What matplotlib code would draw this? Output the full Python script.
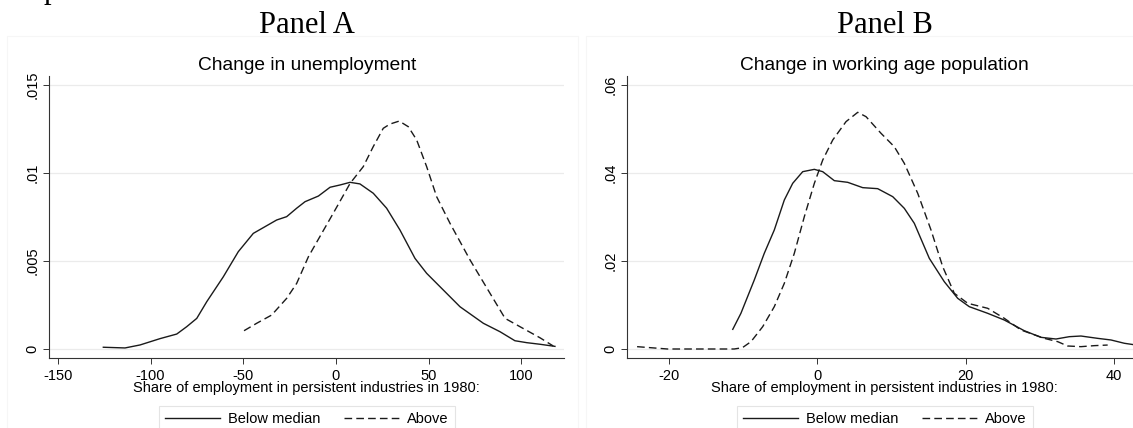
import matplotlib
matplotlib.use("Agg")
import matplotlib.pyplot as plt
from matplotlib.patches import Rectangle

plt.rcParams["font.family"] = ["Liberation Sans", "DejaVu Sans"]

# Panel A: change in unemployment (kernel densities)
a_below_x = [-125.5, -113.8, -105.7, -94.9, -85.9, -80.5, -75.1, -69.7, -60.8, -52.7,
             -44.6, -38.3, -32.0, -26.6, -21.2, -16.7, -9.5, -3.2, 2.2, 7.6,
             12.9, 20.1, 27.3, 34.5, 42.6, 48.9, 57.9, 66.9, 79.5, 88.5,
             96.5, 102.9, 110.0, 118.1]
a_below_y = [0.00010, 0.00006, 0.00023, 0.00059, 0.00085, 0.00127, 0.00174, 0.00269, 0.00410, 0.00553,
             0.00657, 0.00695, 0.00733, 0.00752, 0.00800, 0.00837, 0.00869, 0.00919, 0.00932, 0.00947,
             0.00938, 0.00885, 0.00800, 0.00676, 0.00515, 0.00430, 0.00335, 0.00240, 0.00146, 0.00098,
             0.00047, 0.00036, 0.00027, 0.00015]
a_above_x = [-49.6, -42.8, -34.7, -26.6, -21.2, -14.9, -7.7, -1.5, 7.6, 14.7,
             20.1, 25.5, 29.1, 34.1, 39.0, 43.5, 48.9, 54.3, 61.5, 72.3,
             83.1, 91.2, 99.2, 110.0, 117.2]
a_above_y = [0.00104, 0.00146, 0.00193, 0.00288, 0.00373, 0.00524, 0.00657, 0.00771, 0.00941, 0.01036,
             0.01150, 0.01254, 0.01278, 0.01295, 0.01263, 0.01188, 0.01036, 0.00865, 0.00714, 0.00506,
             0.00316, 0.00174, 0.00127, 0.00064, 0.00017]

# Panel B: change in working age population
b_below_x = [-11.4, -10.3, -8.5, -7.15, -5.8, -4.45, -3.32, -1.97, -0.4, 0.73,
             2.29, 4.1, 6.12, 8.14, 10.17, 11.73, 13.08, 15.1, 17.12, 18.93,
             20.49, 22.97, 25.21, 27.9, 30.16, 32.18, 33.98, 35.55, 37.8, 39.6,
             41.4, 43.8]
b_below_y = [0.00447, 0.00811, 0.01568, 0.02175, 0.02705, 0.03386, 0.03765, 0.04030, 0.04083, 0.04030,
             0.03826, 0.03788, 0.03667, 0.03644, 0.03462, 0.03197, 0.02856, 0.02061, 0.01530, 0.01152,
             0.00962, 0.00811, 0.00659, 0.00416, 0.00265, 0.00227, 0.00280, 0.00295, 0.00242, 0.00205,
             0.00130, 0.00070]
b_above_x = [-24.3, -20.2, -16.6, -11.2, -10.1, -8.94, -7.36, -5.8, -4.45, -3.1,
             -1.75, -0.4, 0.73, 2.08, 3.87, 5.45, 6.57, 8.59, 10.38, 11.73,
             13.54, 15.33, 16.91, 18.47, 20.28, 22.97, 25.21, 27.46, 30.6, 32.41,
             33.76, 35.55, 37.35, 39.15]
b_above_y = [0.00053, 0.0, 0.0, 0.0, 0.00030, 0.00167, 0.00508, 0.00962, 0.01492, 0.02175,
             0.03008, 0.03765, 0.04295, 0.04750, 0.05167, 0.05379, 0.05280, 0.04902, 0.04598, 0.04220,
             0.03538, 0.02705, 0.01870, 0.01266, 0.01039, 0.00925, 0.00698, 0.00432, 0.00242, 0.00167,
             0.00068, 0.00053, 0.00076, 0.00090]

a_xticks = [-150, -100, -50, 0, 50, 100]
a_yticks = [0, 0.005, 0.01, 0.015]
a_ylabels = ["0", ".005", ".01", ".015"]
b_xticks = [-20, 0, 20, 40]
b_yticks = [0, 0.02, 0.04, 0.06]
b_ylabels = ["0", ".02", ".04", ".06"]

panel_labels = ["Panel A", "Panel B"]
titles = ["Change in unemployment", "Change in working age population"]
xlabel = "Share of employment in persistent industries in 1980:"
legend_labels = ["Below median", "Above"]

W, H = 1133, 428
fig = plt.figure(figsize=(W / 100, H / 100), dpi=100)

# faint graph-region outlines (Stata style)
fig.patches.append(Rectangle((7.3 / W, -0.1), (578.3 - 7.3) / W, 1.1 - 36 / H,
                             transform=fig.transFigure, fill=False, ec="#f6f6f6", lw=0.8))
fig.patches.append(Rectangle((585.7 / W, -0.1), 0.6, 1.1 - 36 / H,
                             transform=fig.transFigure, fill=False, ec="#f6f6f6", lw=0.8))

axA = fig.add_axes([49.3 / W, 1 - 358.3 / H, (564 - 49.3) / W, (358.3 - 76) / H])
axB = fig.add_axes([627.3 / W, 1 - 358.3 / H, (1142 - 627.3) / W, (358.3 - 76) / H])

line_col = "#1a1a1a"
setups = [
    (axA, a_below_x, a_below_y, a_above_x, a_above_y, a_xticks, a_yticks, a_ylabels,
     (-154.64, 122.98), (-0.000528, 0.015511)),
    (axB, b_below_x, b_below_y, b_above_x, b_above_y, b_xticks, b_yticks, b_ylabels,
     (-25.62, 43.78), (-0.002114, 0.062045)),
]

for i, (ax, bx, by, ux, uy, xt, yt, yl, xlim, ylim) in enumerate(setups):
    ax.plot(bx, by, color=line_col, lw=1.0, label=legend_labels[0])
    ax.plot(ux, uy, color=line_col, lw=1.0, dashes=(5.5, 3), label=legend_labels[1])
    ax.set_xlim(*xlim)
    ax.set_ylim(*ylim)
    ax.set_xticks(xt)
    ax.set_xticklabels([str(v) for v in xt])
    ax.set_yticks(yt)
    ax.set_yticklabels(yl, rotation=90, va="center")
    ax.grid(axis="y", color="#ebebeb", lw=0.9)
    ax.set_axisbelow(True)
    for s in ["top", "right"]:
        ax.spines[s].set_visible(False)
    for s in ["left", "bottom"]:
        ax.spines[s].set_color("#333333")
        ax.spines[s].set_linewidth(0.8)
    ax.tick_params(axis="both", direction="out", length=4.3, width=0.7, color="#333333",
                   labelsize=10.5, pad=3.5)
    ax.tick_params(axis="y", pad=2.6)
    ax.set_xlabel(xlabel, fontsize=10.5, va="top")
    ax.xaxis.set_label_coords(0.5, (358.3 - 381.3) / (358.3 - 76))

    pos = ax.get_position()
    cx = pos.x0 + pos.width / 2
    fig.text(cx, 1 - 70 / H, titles[i], ha="center", va="baseline", fontsize=13.8)
    fig.text(cx, 1 - 33 / H, panel_labels[i], ha="center", va="baseline", fontsize=22,
             family=["Liberation Serif", "DejaVu Serif"])

    leg = ax.legend(loc="upper center", bbox_to_anchor=(cx, 1 - 406 / H),
                    bbox_transform=fig.transFigure, ncol=2, fontsize=10.5, frameon=True,
                    fancybox=False, framealpha=1, edgecolor="#e4e4e4", borderaxespad=0,
                    handlelength=3.77, handletextpad=0.58, columnspacing=1.6, borderpad=0.4)
    leg.get_frame().set_linewidth(0.8)

# cut-off glyph at the top-left corner of the source page
fig.text(44 / W, 1 + 2 / H, "p", ha="left", va="baseline", fontsize=22,
         family=["Liberation Serif", "DejaVu Serif"])

fig.savefig("out.png", dpi=100)
